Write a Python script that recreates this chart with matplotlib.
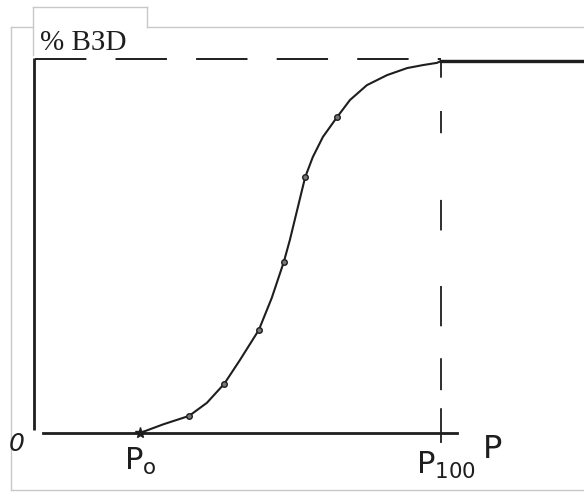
import matplotlib.pyplot as plt
from matplotlib.lines import Line2D

plt.rcParams['lines.scale_dashes'] = False

# S-shaped dose-effect curve (P scaled so P100 = 100, effect in %)
curve_p = [25.3, 31.0, 37.5, 41.9, 46.2, 50.1, 54.8, 58.0, 61.0, 62.5, 64.3,
           66.3, 68.2, 70.7, 74.2, 77.4, 81.6, 86.6, 91.6, 95.5, 99.0, 100.0, 135.5]
curve_pct = [0.0, 2.3, 4.6, 8.1, 13.2, 19.6, 27.7, 36.3, 46.0, 51.9, 59.9,
             68.8, 74.2, 79.6, 84.9, 89.5, 93.5, 96.2, 98.1, 98.9, 99.5, 100.0, 100.0]

# measured points marked on the curve
pts_p = [37.5, 46.2, 54.8, 61.0, 66.3, 74.2]
pts_pct = [4.6, 13.2, 27.7, 46.0, 68.8, 84.9]

p0 = 25.3
p100 = 100.0
axis_end = 104.0

W, H = 584, 493
fig = plt.figure(figsize=(W / 100, H / 100), dpi=100)
ax = fig.add_axes([0, 0, 1, 1])
ax.axis('off')
# pixel 38 -> P=0, pixel 441 -> P=100 ; pixel 433 -> 0 %, pixel 61 -> 100 %
sx = (441 - 38) / 100
sy = (433 - 61) / 100
ax.set_xlim(-38 / sx, (W - 38) / sx)
ax.set_ylim(-(H - 433) / sy, 100 + 61 / sy)

ink = '#1e1e1e'

# light grey frame of the scan
def px_line(x0, y0, x1, y1):
    fig.add_artist(Line2D([x0 / W, x1 / W], [1 - y0 / H, 1 - y1 / H],
                          color='#c8c8c8', lw=1.0, transform=fig.transFigure))

px_line(11, 27, 33, 27)
px_line(147, 27, 584, 27)
px_line(11, 27, 11, 490)
px_line(11, 490, 584, 490)
px_line(33, 7, 147, 7)
px_line(33, 7, 33, 55)
px_line(147, 7, 147, 27)

# axes drawn by hand
ax.plot([-0.9, -0.9], [0.8, 100.8], color=ink, lw=2.0, solid_capstyle='butt')
ax.plot([1.2, axis_end], [0, 0], color=ink, lw=2.0)

# dashed guides to 100 %
ax.plot([-0.7, p100], [100.5, 100.5], color=ink, lw=1.4,
        linestyle=(0, (37, 21)))
ax.plot([p100, p100], [100, -4.6], color=ink, lw=1.3,
        linestyle=(2, (14, 24, 16, 48, 22, 40, 29, 23, 23, 13, 25, 10)))

# curve and points
ax.plot(curve_p, curve_pct, color=ink, lw=1.5, solid_joinstyle='round')
ax.plot(curve_p[-2:], curve_pct[-2:], color=ink, lw=2.4)
ax.plot(pts_p, pts_pct, 'o', ms=4, mfc='#777777', mec=ink, mew=1.0)
ax.plot([p0], [0], '*', ms=8, color=ink)

# labels
fig.text(40 / W, 1 - 50 / H, '% ВЗD', family='Liberation Serif', fontsize=21,
         color=ink, ha='left', va='baseline')
fig.text(17 / W, 1 - 444 / H, '0', family='DejaVu Sans', fontsize=18,
         style='italic', color=ink, ha='center', va='center')
fig.text(140 / W, 1 - 461 / H, r'P$_{\mathregular{o}}$', family='DejaVu Sans',
         fontsize=22, color=ink, ha='center', va='center')
fig.text(446 / W, 1 - 465 / H, r'P$_{\mathregular{100}}$', family='DejaVu Sans',
         fontsize=22, color=ink, ha='center', va='center')
fig.text(493 / W, 1 - 450 / H, 'P', family='DejaVu Sans', fontsize=23,
         color=ink, ha='center', va='center')

fig.savefig('out.png', dpi=100, facecolor='white')
